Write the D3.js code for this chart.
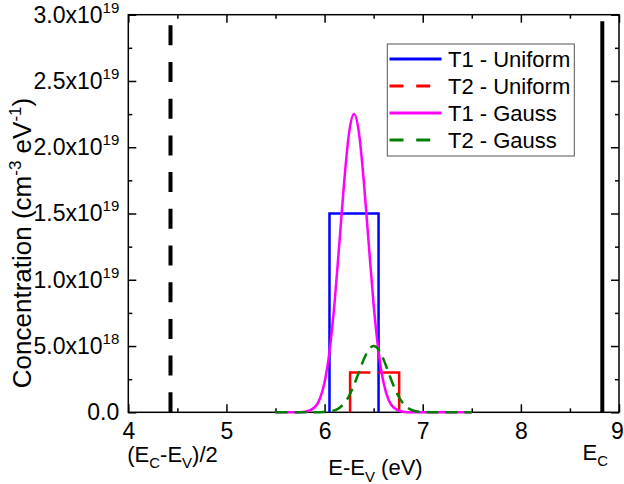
<!DOCTYPE html>
<html>
<head>
<meta charset="utf-8">
<script src="https://cdnjs.cloudflare.com/ajax/libs/d3/7.8.5/d3.min.js"></script>
<style>
body { margin: 0; background: #fff; }
text { font-family: "Liberation Sans", Arial, sans-serif; fill: #000; }
</style>
</head>
<body>
<div id="chart"></div>
<script>
// tick values
var xTicks = [4, 5, 6, 7, 8, 9];
var xMinor = [4.5, 5.5, 6.5, 7.5, 8.5];
var yTicks = [0, 5e18, 1e19, 1.5e19, 2e19, 2.5e19, 3e19];
var yMinor = [2.5e18, 7.5e18, 1.25e19, 1.75e19, 2.25e19, 2.75e19];

var legendNames = ['T1 - Uniform', 'T2 - Uniform', 'T1 - Gauss', 'T2 - Gauss'];

// uniform trap distributions (E in eV, N in cm-3 eV-1)
var t1UniformE = [6.05, 6.05, 6.55, 6.55];
var t1UniformN = [0, 1.5e19, 1.5e19, 0];
var t2UniformE = [6.26, 6.26, 6.76, 6.76];
var t2UniformN = [0, 3e18, 3e18, 0];

// gaussian trap distributions
var t1GaussE = [5.5, 5.7, 5.8, 5.9, 5.95, 6.0, 6.05, 6.1, 6.15, 6.2, 6.25, 6.3, 6.35, 6.4, 6.45, 6.5, 6.55, 6.6, 6.65, 6.7, 6.8, 6.9, 7.5];
var t1GaussN = [0, 0, 0.004e19, 0.038e19, 0.099e19, 0.227e19, 0.457e19, 0.81e19, 1.27e19, 1.74e19, 2.11e19, 2.25e19, 2.11e19, 1.74e19, 1.27e19, 0.81e19, 0.457e19, 0.227e19, 0.099e19, 0.038e19, 0.004e19, 0, 0];
var t2GaussE = [5.5, 5.9, 6.0, 6.1, 6.15, 6.2, 6.25, 6.3, 6.35, 6.4, 6.45, 6.5, 6.55, 6.6, 6.65, 6.7, 6.75, 6.8, 6.85, 6.9, 7.0, 7.1, 7.5];
var t2GaussN = [0, 0, 0.02e18, 0.14e18, 0.33e18, 0.68e18, 1.25e18, 2.06e18, 3.03e18, 4.0e18, 4.73e18, 5.0e18, 4.73e18, 4.0e18, 3.03e18, 2.06e18, 1.25e18, 0.68e18, 0.33e18, 0.14e18, 0.02e18, 0, 0];

// band markers
var midGapE = 4.43, midGapTop = 2.93e19;
var condBandE = 8.83, condBandTop = 2.95e19;

var svgSize = {width: 624, height: 484, margin: {top: 14.7, right: 5, bottom: 71.7, left: 128.3}};
var width = svgSize.width - svgSize.margin.left - svgSize.margin.right;
var height = svgSize.height - svgSize.margin.top - svgSize.margin.bottom;

var svg = d3.select('#chart').append('svg')
    .attr('width', svgSize.width)
    .attr('height', svgSize.height);
var g = svg.append('g')
    .attr('transform', 'translate(' + svgSize.margin.left + ',' + svgSize.margin.top + ')');

var x = d3.scaleLinear().domain([4, 9]).range([0, width]);
var y = d3.scaleLinear().domain([0, 3e19]).range([height, 0]);

function zip(es, ns) {
    return es.map(function(e, i) { return {e: e, n: ns[i]}; });
}

var series = [
    {name: legendNames[0], color: '#0000ff', dash: null, legDash: null, data: zip(t1UniformE, t1UniformN), curve: d3.curveLinear},
    {name: legendNames[1], color: '#ff0000', dash: '60,8', legDash: '14,12.7', data: zip(t2UniformE, t2UniformN), curve: d3.curveLinear},
    {name: legendNames[2], color: '#ff00ff', dash: null, legDash: null, data: zip(t1GaussE, t1GaussN), curve: d3.curveMonotoneX},
    {name: legendNames[3], color: '#008000', dash: '12,7', legDash: '14,12.7', data: zip(t2GaussE, t2GaussN), curve: d3.curveMonotoneX}
];

// axes - ticks point inward on all four sides
function styleAxis(sel) {
    sel.select('.domain').remove();
    sel.selectAll('line').attr('stroke', '#000').attr('stroke-width', 1.5);
}

g.append('g').attr('transform', 'translate(0,' + height + ')')
    .call(d3.axisBottom(x).tickValues(xTicks).tickSize(-8).tickPadding(10).tickFormat(d3.format('d')))
    .call(styleAxis)
    .selectAll('text')
    .attr('font-size', 23)
    .attr('font-family', '"Liberation Sans", Arial, sans-serif')
    .attr('dx', function(d) { return d === 9 ? -2 : 0; });
g.append('g').attr('transform', 'translate(0,' + height + ')')
    .call(d3.axisBottom(x).tickValues(xMinor).tickSize(-4).tickFormat(''))
    .call(styleAxis);
g.append('g')
    .call(d3.axisTop(x).tickValues(xTicks).tickSize(-8).tickFormat(''))
    .call(styleAxis);
g.append('g')
    .call(d3.axisTop(x).tickValues(xMinor).tickSize(-4).tickFormat(''))
    .call(styleAxis);

g.append('g')
    .call(d3.axisLeft(y).tickValues(yTicks).tickSize(-8).tickPadding(9))
    .call(styleAxis)
    .selectAll('.tick text')
    .attr('font-size', 23)
    .attr('font-family', '"Liberation Sans", Arial, sans-serif')
    .each(function(d) {
        var t = d3.select(this).text('');
        if (d === 0) { t.text('0.0'); return; }
        var ex = Math.floor(Math.log10(d) + 1e-9);
        var m = d / Math.pow(10, ex);
        t.append('tspan').text(m.toFixed(1) + 'x10');
        t.append('tspan').attr('font-size', 15).attr('dy', -10).text(ex);
    });
g.append('g')
    .call(d3.axisLeft(y).tickValues(yMinor).tickSize(-4).tickFormat(''))
    .call(styleAxis);
g.append('g').attr('transform', 'translate(' + width + ',0)')
    .call(d3.axisRight(y).tickValues(yTicks).tickSize(-8).tickFormat(''))
    .call(styleAxis);
g.append('g').attr('transform', 'translate(' + width + ',0)')
    .call(d3.axisRight(y).tickValues(yMinor).tickSize(-4).tickFormat(''))
    .call(styleAxis);

// frame
g.append('rect')
    .attr('width', width)
    .attr('height', height)
    .attr('fill', 'none')
    .attr('stroke', '#000')
    .attr('stroke-width', 1.5);

// data lines
var line = d3.line()
    .x(function(d) { return x(d.e); })
    .y(function(d) { return y(d.n); });

var lines = g.append('g').attr('id', 'lines');
series.forEach(function(s) {
    lines.append('path')
        .datum(s.data)
        .attr('fill', 'none')
        .attr('stroke', s.color)
        .attr('stroke-width', 2.5)
        .attr('stroke-dasharray', s.dash)
        .attr('d', line.curve(s.curve));
});

// mid gap (dashed) and conduction band edge (solid)
lines.append('line')
    .attr('x1', x(midGapE)).attr('x2', x(midGapE))
    .attr('y1', y(0)).attr('y2', y(midGapTop))
    .attr('stroke', '#000')
    .attr('stroke-width', 4)
    .attr('stroke-dasharray', '20,16.7');
lines.append('line')
    .attr('x1', x(condBandE)).attr('x2', x(condBandE))
    .attr('y1', y(0)).attr('y2', y(condBandTop))
    .attr('stroke', '#000')
    .attr('stroke-width', 4);

// labels under the band markers
var midLab = g.append('text')
    .attr('x', x(midGapE) + 2)
    .attr('y', height + 50)
    .attr('text-anchor', 'middle')
    .attr('font-size', 22);
midLab.append('tspan').text('(E');
midLab.append('tspan').attr('font-size', 15).attr('dy', 6).text('C');
midLab.append('tspan').attr('dy', -6).text('-E');
midLab.append('tspan').attr('font-size', 15).attr('dy', 6).text('V');
midLab.append('tspan').attr('dy', -6).text(')/2');

var ecLab = g.append('text')
    .attr('x', x(condBandE) - 7)
    .attr('y', height + 47.7)
    .attr('text-anchor', 'middle')
    .attr('font-size', 22);
ecLab.append('tspan').text('E');
ecLab.append('tspan').attr('font-size', 15).attr('dy', 6).text('C');

// axis titles
var xTitle = svg.append('text')
    .attr('x', 375.5)
    .attr('y', 475)
    .attr('text-anchor', 'middle')
    .attr('font-size', 22);
xTitle.append('tspan').text('E-E');
xTitle.append('tspan').attr('font-size', 15).attr('dy', 7).text('V');
xTitle.append('tspan').attr('dy', -7).text(' (eV)');

var yTitle = svg.append('text')
    .attr('transform', 'translate(31,243) rotate(-90)')
    .attr('text-anchor', 'middle')
    .attr('font-size', 26);
yTitle.append('tspan').text('Concentration (cm');
yTitle.append('tspan').attr('font-size', 17).attr('dy', -10).text('-3');
yTitle.append('tspan').attr('dy', 10).text(' eV');
yTitle.append('tspan').attr('font-size', 17).attr('dy', -10).text('-1');
yTitle.append('tspan').attr('dy', 10).text(')');

// legend
var legend = svg.append('g').attr('id', 'legend');
legend.append('rect')
    .attr('x', 387.3).attr('y', 44)
    .attr('width', 187).attr('height', 112)
    .attr('fill', '#fff')
    .attr('stroke', '#555')
    .attr('stroke-width', 1);
series.forEach(function(s, i) {
    var ly = 59 + i * 27;
    legend.append('line')
        .attr('x1', 389.5).attr('x2', 441.5)
        .attr('y1', ly).attr('y2', ly)
        .attr('stroke', s.color)
        .attr('stroke-width', 3)
        .attr('stroke-dasharray', s.legDash);
    legend.append('text')
        .attr('x', 448)
        .attr('y', ly + 7.7)
        .attr('font-size', 22)
        .text(s.name);
});
</script>
</body>
</html>
